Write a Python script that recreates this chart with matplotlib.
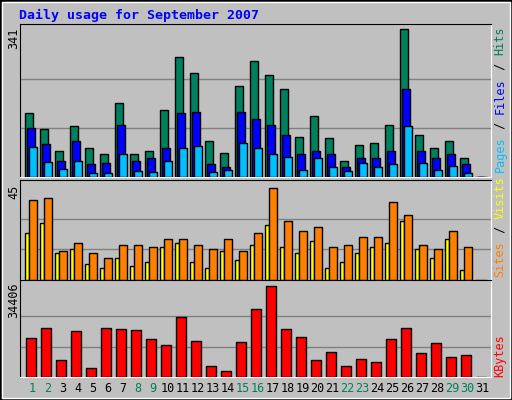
import matplotlib
matplotlib.use("Agg")
import matplotlib.pyplot as plt

days = list(range(1, 32))
hits = [147,110,61,117,66,54,172,54,59,154,276,239,82,56,211,267,235,204,93,140,91,38,75,79,121,341,96,68,82,45,0]
files = [114,77,38,82,29,33,119,38,45,68,147,151,29,24,149,133,121,96,54,59,52,22,45,45,61,204,61,45,54,31,0]
pages = [70,35,19,38,10,10,54,15,12,38,68,72,12,17,79,66,54,47,17,45,22,15,33,22,29,117,33,17,26,10,0]
visits = [39,40,14,18,13,11,17,17,16,20,20,17,15,20,14,23,45,29,24,26,16,17,21,21,38,32,17,15,24,16,0]
sites = [23,28,13,15,8,6,11,7,9,16,18,9,6,14,10,17,27,16,13,19,6,9,13,16,18,29,15,11,20,5,0]
kbytes = [14745,18526,6427,17392,3403,18526,18148,17770,14367,12099,22685,13611,4159,2268,13233,25710,34406,18148,15123,6427,9452,4159,6806,5671,14367,18526,9074,12855,7562,8318,0]
weekend = [1,2,8,9,15,16,22,23,29,30]
title = "Daily usage for September 2007"

W, H = 512, 400
BG = "#c0c0c0"
fig = plt.figure(figsize=(W/100, H/100), dpi=100, facecolor=BG)
mono = "DejaVu Sans Mono"

fig.add_artist(plt.Rectangle((0, 0), 1, 1, transform=fig.transFigure, fill=False, ec="black", lw=2))
fig.add_artist(plt.Rectangle((2/W, 2/H), 1-4/W, 1-4/H, transform=fig.transFigure, fill=False, ec="white", lw=1))

def mkax(top, bottom):
    ax = fig.add_axes([20/W, 1-bottom/H, 471/W, (bottom-top)/H], facecolor=BG)
    ax.set_xlim(0, 471)
    ax.set_xticks([]); ax.set_yticks([])
    for s in ("left", "top"):
        ax.spines[s].set_color("black")
    for s in ("right", "bottom"):
        ax.spines[s].set_color("white")
    return ax

def bars(ax, vals, x0, x1, color):
    xs = [15*i + x0 for i in range(len(vals))]
    ax.bar(xs, vals, width=x1-x0, align="edge", color=color, edgecolor="black", linewidth=1, zorder=3)

def grid(ax, mx):
    for f in (1/3, 2/3):
        ax.axhline(mx*f, color="#808080", lw=1, zorder=1)

ax1 = mkax(24, 177)
mx = max(hits)
ax1.set_ylim(0, mx*152.7/147.4)
grid(ax1, mx)
bars(ax1, hits, 5.3, 12.7, "#00805c")
bars(ax1, files, 7.3, 15, "#0000ff")
bars(ax1, pages, 9.3, 17, "#00c0ff")

ax2 = mkax(180, 280)
mv = max(visits)
ax2.set_ylim(0, mv*100/92)
grid(ax2, mv)
bars(ax2, sites, 5.3, 9.3, "#ffff00")
bars(ax2, visits, 9.3, 16.7, "#ff8000")

ax3 = mkax(280, 377)
mk = max(kbytes)
ax3.set_ylim(0, mk*97/91)
grid(ax3, mk)
bars(ax3, kbytes, 6.3, 16.3, "#ff0000")

fig.text(19/W, 1-15/H, title, color="#0000ff", fontsize=9.5, fontweight="bold", family=mono, va="center", ha="left")
fig.text(14/W, 1-38/H, str(mx), rotation=90, fontsize=8.5, family=mono, ha="center", va="center")
fig.text(14/W, 1-192/H, str(mv), rotation=90, fontsize=8.5, family=mono, ha="center", va="center")
fig.text(14/W, 1-300/H, str(mk), rotation=90, fontsize=8.5, family=mono, ha="center", va="center")

def rlabel(parts, ybottom):
    y = ybottom
    for txt, col in parts:
        fig.text(500/W, 1-y/H, txt, rotation=90, fontsize=8.5, family=mono, color=col, ha="center", va="bottom")
        y -= 7.3*len(txt)
rlabel([("Pages", "#00c0ff"), (" / ", "black"), ("Files", "#0000ff"), (" / ", "black"), ("Hits", "#00805c")], 172)
rlabel([("Sites", "#ff8000"), (" / ", "black"), ("Visits", "#ffff00")], 277)
rlabel([("KBytes", "#ff0000")], 377)

for i, d in enumerate(days):
    fig.text((20+15*i+12.5)/W, 1-389/H, str(d), fontsize=8.5, family=mono, ha="center", va="center",
             color="#00805c" if d in weekend else "black")

fig.savefig("out.png", dpi=100, facecolor=BG)
